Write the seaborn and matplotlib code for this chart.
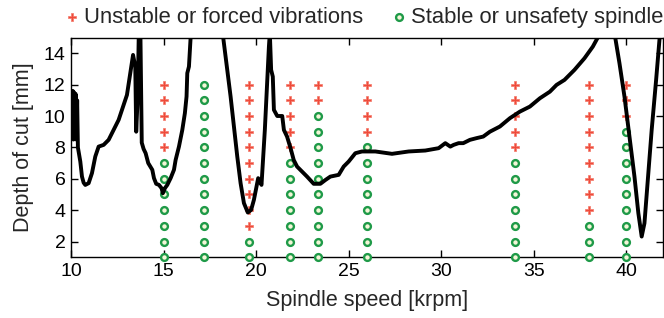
import matplotlib
matplotlib.use('Agg')
import matplotlib.pyplot as plt
import seaborn as sns
import pandas as pd

# stability lobe (speed in krpm, depth in mm)
lobe_speed = [10.05, 10.09, 10.13, 10.17, 10.21, 10.25, 10.29, 10.33, 10.37, 10.50,
              10.59, 10.68, 10.77, 10.95, 11.13, 11.31, 11.49, 11.76, 12.03, 12.30,
              12.57, 12.75, 13.02, 13.20, 13.35, 13.47, 13.52, 13.60, 13.67, 13.74,
              13.82, 13.92, 14.03, 14.17, 14.39, 14.48, 14.60, 14.75, 14.89, 14.96,
              15.07, 15.20, 15.38, 15.56, 15.65, 15.83, 16.01, 16.15, 16.24, 16.28,
              16.37, 16.46, 16.50, 18.20, 18.22, 18.44, 18.62, 18.80, 18.98, 19.16,
              19.34, 19.55, 19.73, 19.88, 20.02, 20.11, 20.24, 20.29, 20.47, 20.60,
              20.69, 20.74, 20.81, 20.90, 20.96, 21.14, 21.41, 21.50, 21.67, 21.86,
              22.03, 22.21, 22.48, 22.75, 23.11, 23.47, 23.75, 24.01, 24.46, 24.73,
              25.00, 25.36, 25.72, 26.44, 27.34, 28.24, 29.14, 29.86, 30.22, 30.49,
              30.67, 30.94, 31.19, 31.55, 31.91, 32.27, 32.63, 33.17, 33.71, 34.25,
              34.79, 35.33, 35.87, 36.23, 36.66, 37.20, 37.74, 38.19, 38.55, 38.60,
              39.35, 39.40, 39.63, 39.90, 40.17, 40.44, 40.65, 40.83, 40.98, 41.16,
              41.37, 41.61, 41.79, 41.85]
lobe_depth = [9.0, 11.6, 8.5, 11.5, 8.6, 11.4, 8.5, 11.0, 8.0, 7.1,
              6.14, 5.75, 5.61, 5.72, 6.36, 7.42, 8.05, 8.16, 8.48, 9.11,
              9.75, 10.39, 11.34, 12.73, 13.89, 13.15, 9.0, 11.2, 16.0, 16.0,
              8.3, 7.9, 7.63, 7.0, 6.57, 6.04, 5.68, 5.61, 5.40, 5.08,
              5.40, 5.61, 6.04, 6.57, 7.2, 8.05, 9.11, 10.18, 11.24, 12.73,
              13.15, 15.0, 16.0, 16.0, 15.0, 12.94, 11.24, 9.33, 7.42, 5.72,
              4.45, 3.85, 4.02, 4.66, 5.5, 6.04, 5.72, 5.61, 9.11, 12.3,
              14.42, 15.3, 12.94, 12.51, 10.39, 10.0, 10.0, 9.11, 8.69, 7.95,
              7.2, 6.78, 6.46, 6.14, 5.68, 5.68, 5.93, 6.14, 6.25, 6.78,
              7.10, 7.63, 7.74, 7.74, 7.59, 7.74, 7.80, 7.95, 8.27, 8.05,
              8.16, 8.27, 8.27, 8.48, 8.59, 8.69, 9.0, 9.33, 9.86, 10.28,
              10.6, 11.13, 11.55, 11.98, 12.30, 12.94, 13.68, 14.42, 15.2, 16.0,
              16.0, 15.0, 13.36, 11.24, 8.69, 6.14, 3.81, 2.32, 3.17, 5.93,
              9.11, 12.30, 14.85, 16.0]

# cutting tests: spindle speed of each column and the lowest depth that vibrated
cut_speed = [15, 17.2, 19.6, 21.85, 23.35, 26, 34, 38, 40]
first_unstable = [8, 13, 3, 8, 11, 9, 8, 4, 10]
cut_depth = [1, 2, 3, 4, 5, 6, 7, 8, 9, 10, 11, 12]

lab_bad = 'Unstable or forced vibrations'
lab_good = 'Stable or unsafety spindle'

rows = []
for s, lim in zip(cut_speed, first_unstable):
    for d in cut_depth:
        rows.append([s, d, lab_bad if d >= lim else lab_good])
cuts = pd.DataFrame(rows, columns=['speed', 'depth', 'state'])

sns.set_style('ticks')
plt.rcParams['font.family'] = ['Liberation Sans', 'DejaVu Sans']

fig = plt.figure(figsize=(6.64, 3.18), dpi=100)
ax = fig.add_axes([0.107, 0.191, 0.892, 0.691])

sns.scatterplot(data=cuts[cuts['state'] == lab_bad], x='speed', y='depth', marker='P',
                s=28, color='#ef4b3b', edgecolor='#f47a6a', linewidth=0.5,
                label=lab_bad, ax=ax, clip_on=False, zorder=3)
sns.scatterplot(data=cuts[cuts['state'] == lab_good], x='speed', y='depth', marker='o',
                s=24, facecolor='#f4f6d8', edgecolor='#1f9a48', linewidth=1.7,
                label=lab_good, ax=ax, clip_on=False, zorder=3)
sns.lineplot(x=lobe_speed, y=lobe_depth, sort=False, estimator=None, color='black',
             linewidth=2.8, ax=ax, zorder=4)

ax.set_xlim(10, 42)
ax.set_ylim(1, 15)
ax.set_xticks([10, 15, 20, 25, 30, 35, 40])
ax.set_yticks([2, 4, 6, 8, 10, 12, 14])
ax.tick_params(direction='in', bottom=True, left=True, top=True, right=True,
               length=5, width=1, labelsize=14, pad=4, colors='black')
for sp in ax.spines.values():
    sp.set_visible(True)
    sp.set_linewidth(1)
    sp.set_color('black')
ax.set_xlabel('Spindle speed [krpm]', fontsize=15.5, labelpad=7)
ax.set_ylabel('Depth of cut [mm]', fontsize=15.5, labelpad=7)

ax.legend(loc='lower left', bbox_to_anchor=(-0.035, 0.995), ncol=2, frameon=False,
          fontsize=15.8, handletextpad=0.05, columnspacing=1.1, borderaxespad=0.1,
          handlelength=1.0)

fig.savefig('out.png', dpi=100)
